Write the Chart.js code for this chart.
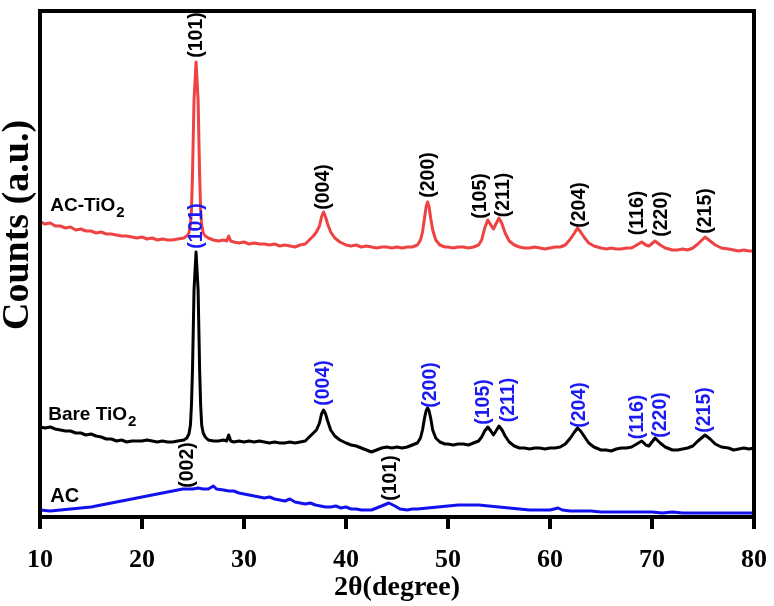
<!DOCTYPE html>
<html>
<head>
<meta charset="utf-8">
<title>XRD patterns</title>
<script src="https://cdn.jsdelivr.net/npm/chart.js@4/dist/chart.umd.min.js"></script>
<style>
  html, body { margin: 0; padding: 0; background: #fff; }
  #xrd { display: block; }
</style>
</head>
<body>
<canvas id="xrd" width="774" height="606"></canvas>
<script>
// XRD patterns of AC, bare TiO2 and AC-TiO2. Counts are arbitrary units,
// read off the picture (each curve already carries its vertical offset).

var xTicks = [10, 20, 30, 40, 50, 60, 70, 80];

// 2θ grid shared by the two TiO2 patterns
var angleTiO2 = [
  10, 10.5, 11, 11.5, 12, 12.5, 13, 13.5, 14, 14.5,
  15, 15.5, 16, 16.5, 17, 17.5, 18, 18.5, 19, 19.5,
  20, 20.5, 21, 21.5, 22, 22.5, 23, 23.5, 24.1, 24.4,
  24.6, 24.75, 24.85, 24.95, 25.1, 25.3, 25.5, 25.65, 25.75, 25.85,
  26.0, 26.2, 26.5, 27, 27.5, 28, 28.3, 28.5, 28.7, 29,
  29.5, 30, 30.5, 31, 31.5, 32, 32.5, 33, 33.5, 34,
  34.5, 35, 35.5, 36, 36.4, 36.8, 37.1, 37.4, 37.6, 37.8,
  38.0, 38.2, 38.5, 38.9, 39.4, 40, 40.5, 41, 41.5, 42,
  42.5, 43, 43.5, 44, 44.5, 45, 45.5, 46, 46.5, 47,
  47.3, 47.5, 47.7, 47.85, 48.0, 48.15, 48.3, 48.5, 48.8, 49.2,
  49.7, 50, 50.5, 51, 51.5, 52, 52.5, 53, 53.3, 53.6,
  53.9, 54.2, 54.45, 54.7, 55.0, 55.3, 55.6, 56, 56.5, 57,
  57.5, 58, 58.5, 59, 59.5, 60, 60.5, 61, 61.5, 62,
  62.4, 62.7, 63.0, 63.4, 63.8, 64.3, 65, 65.5, 66, 66.5,
  67, 67.5, 68, 68.5, 69.0, 69.4, 69.7, 70.3, 70.8, 71.3,
  72, 72.5, 73, 73.5, 74, 74.5, 75.2, 75.7, 76.2, 76.8,
  77.5, 78, 78.5, 79, 79.5, 80
];

var countsAcTiO2 = [
  295, 293, 294, 291, 291, 289, 290, 287, 288, 286,
  286, 284, 285, 283, 283, 282, 281, 281, 280, 279,
  280, 278, 279, 277, 278, 277, 277, 278, 279, 281,
  284, 292, 307, 342, 417, 455, 417, 342, 307, 292,
  284, 281, 279, 277, 276, 277, 276, 281, 276, 275,
  274, 275, 273, 274, 273, 273, 272, 273, 271, 272,
  271, 270, 272, 273, 277, 281, 285, 291, 300, 305,
  300, 293, 285, 279, 275, 272, 271, 272, 270, 271,
  270, 269, 270, 270, 269, 270, 269, 270, 270, 272,
  277, 285, 299, 310, 315, 310, 299, 287, 277, 272,
  270, 270, 269, 270, 270, 269, 270, 272, 277, 289,
  297, 292, 288, 293, 299, 293, 284, 276, 272, 270,
  269, 269, 270, 269, 268, 269, 270, 270, 272, 278,
  284, 289, 285, 279, 274, 271, 269, 268, 269, 268,
  268, 269, 269, 272, 275, 272, 271, 276, 272, 269,
  267, 267, 268, 267, 269, 273, 280, 276, 272, 269,
  268, 267, 266, 267, 266, 266
];

var countsBareTiO2 = [
  90, 89, 90, 88, 87, 86, 86, 84, 84, 82,
  83, 81, 80, 78, 78, 76, 77, 75, 76, 76,
  76, 77, 76, 75, 76, 75, 75, 76, 77, 79,
  83, 92, 112, 147, 227, 265, 227, 147, 112, 92,
  84, 80, 77, 76, 76, 77, 76, 82, 76, 75,
  76, 75, 76, 75, 76, 75, 74, 75, 74, 74,
  75, 74, 75, 76, 80, 84, 87, 94, 103, 107,
  103, 96, 87, 81, 77, 74, 72, 71, 69, 67,
  65, 67, 69, 70, 69, 70, 69, 70, 72, 74,
  79, 87, 99, 106, 109, 106, 99, 87, 79, 75,
  73, 73, 72, 73, 73, 72, 74, 76, 80, 86,
  90, 86, 82, 86, 91, 87, 81, 75, 71, 69,
  69, 68, 69, 69, 68, 69, 69, 70, 73, 79,
  85, 89, 86, 80, 74, 70, 67, 67, 66, 68,
  69, 69, 70, 73, 76, 72, 71, 79, 74, 70,
  67, 67, 68, 69, 71, 76, 82, 78, 73, 70,
  69, 67, 68, 69, 68, 69
];

var angleAC = [
  10, 11, 12, 13, 14, 15, 16, 17, 18, 19,
  20, 21, 22, 23, 24, 25, 25.5, 26, 26.5, 27,
  27.3, 28, 28.5, 29, 29.5, 30, 30.5, 31, 31.5, 32,
  32.5, 33, 33.5, 34, 34.5, 35, 35.5, 36, 36.5, 37,
  37.5, 38, 38.5, 39, 39.5, 40, 40.5, 41, 41.5, 42,
  42.5, 43, 43.5, 44.2, 44.8, 45.3, 46, 46.5, 47, 48,
  49, 50, 51, 52, 53, 54, 55, 56, 57, 58,
  59, 60, 60.8, 61.2, 62, 63, 64, 65, 66, 67,
  68, 69, 70, 71, 72, 73, 74, 75, 76, 77,
  78, 79, 80
];

var countsAC = [
  7, 6, 7, 8, 9, 10, 12, 14, 16, 18,
  20, 22, 24, 26, 28, 28, 29, 28, 28, 31,
  28, 27, 26, 26, 24, 23, 22, 21, 20, 19,
  20, 18, 17, 16, 18, 15, 14, 13, 14, 12,
  11, 10, 10, 11, 9, 10, 8, 8, 7, 7,
  7, 9, 11, 14, 11, 8, 7, 8, 8, 9,
  10, 11, 12, 12, 12, 11, 10, 9, 8, 7,
  7, 7, 9, 7, 6, 6, 6, 5, 5, 5,
  5, 5, 5, 4, 5, 4, 4, 4, 4, 4,
  4, 4, 4
];

// (hkl) reflections marked on the patterns
var hklTiO2 = ['(101)', '(004)', '(200)', '(105)', '(211)', '(204)', '(116)', '(220)', '(215)'];
var hklAcTiO2Angle = [25.3, 37.75, 48.0, 53.1, 55.4, 62.85, 68.5, 70.8, 75.2];
var hklAcTiO2Count = [482, 330, 342, 321, 322, 312, 304, 303, 306];
var hklBareAngle = [25.3, 37.75, 48.2, 53.4, 55.8, 62.85, 68.5, 70.7, 75.1];
var hklBareCount = [291, 134, 132, 115, 117, 112, 100, 102, 107];
var hklAC = ['(002)', '(101)'];
var hklACAngle = [24.4, 44.3];
var hklACCount = [52, 39];

// curve names written next to the left axis
var sampleNames = ['AC-TiO', 'Bare TiO', 'AC'];
var sampleSubs = ['2', '2', ''];
var sampleNameAngle = [11.0, 10.8, 11.0];
var sampleNameCount = [311, 102, 21];

if (angleTiO2.length !== countsAcTiO2.length || angleTiO2.length !== countsBareTiO2.length ||
    angleAC.length !== countsAC.length) {
  throw new Error('data length mismatch');
}

var RED = '#ef4242';
var BLACK = '#000000';
var BLUE = '#1212ee';
var LABEL_BLUE = '#1a1af5';
var SERIF = "'Liberation Serif', 'Times New Roman', serif";
var SANS = "'Liberation Sans', Arial, sans-serif";

function points(xs, ys) {
  return xs.map(function (x, i) { return { x: x, y: ys[i] }; });
}

function series(label, xs, ys, color) {
  return {
    label: label,
    data: points(xs, ys),
    borderColor: color,
    backgroundColor: color,
    borderWidth: 3,
    pointRadius: 0,
    tension: 0,
    borderJoinStyle: 'round',
    fill: false
  };
}

var decorations = {
  id: 'decorations',
  afterDatasetsDraw: function (chart) {
    var ctx = chart.ctx;
    var xs = chart.scales.x;
    var ys = chart.scales.y;

    function vertical(text, angle, count, color) {
      ctx.save();
      ctx.translate(xs.getPixelForValue(angle), ys.getPixelForValue(count));
      ctx.rotate(-Math.PI / 2);
      ctx.font = 'bold 19.5px ' + SANS;
      ctx.fillStyle = color;
      ctx.textAlign = 'center';
      ctx.textBaseline = 'middle';
      ctx.fillText(text, 0, 1);
      ctx.restore();
    }

    hklTiO2.forEach(function (t, i) {
      vertical(t, hklAcTiO2Angle[i], hklAcTiO2Count[i], BLACK);
      vertical(t, hklBareAngle[i], hklBareCount[i], LABEL_BLUE);
    });
    hklAC.forEach(function (t, i) {
      vertical(t, hklACAngle[i], hklACCount[i], BLACK);
    });

    sampleNames.forEach(function (name, i) {
      var px = xs.getPixelForValue(sampleNameAngle[i]);
      var py = ys.getPixelForValue(sampleNameCount[i]);
      ctx.save();
      ctx.fillStyle = BLACK;
      ctx.textAlign = 'left';
      ctx.textBaseline = 'middle';
      ctx.font = 'bold ' + (sampleSubs[i] ? 19 : 20) + 'px ' + SANS;
      ctx.fillText(name, px, py);
      if (sampleSubs[i]) {
        var w = ctx.measureText(name).width;
        ctx.font = 'bold 15px ' + SANS;
        ctx.fillText(sampleSubs[i], px + w + 1, py + 7);
      }
      ctx.restore();
    });
  },
  afterDraw: function (chart) {
    var ctx = chart.ctx;
    var a = chart.chartArea;
    ctx.save();
    ctx.strokeStyle = BLACK;
    ctx.lineWidth = 4;
    ctx.strokeRect(a.left, a.top, a.right - a.left, a.bottom - a.top);

    // y axis title
    ctx.translate(18, 225);
    ctx.rotate(-Math.PI / 2);
    ctx.font = 'bold 38px ' + SERIF;
    ctx.fillStyle = BLACK;
    ctx.textAlign = 'center';
    ctx.textBaseline = 'middle';
    ctx.fillText('Counts (a.u.)', 0, 0);
    ctx.restore();
  }
};

new Chart(document.getElementById('xrd'), {
  type: 'line',
  data: {
    datasets: [
      series('AC-TiO2', angleTiO2, countsAcTiO2, RED),
      series('Bare TiO2', angleTiO2, countsBareTiO2, BLACK),
      series('AC', angleAC, countsAC, BLUE)
    ]
  },
  options: {
    responsive: false,
    animation: false,
    devicePixelRatio: 1,
    layout: { padding: { left: 40, right: 20, top: 11, bottom: 0 } },
    plugins: { legend: { display: false }, tooltip: { enabled: false } },
    scales: {
      x: {
        type: 'linear',
        min: 10,
        max: 80,
        afterBuildTicks: function (scale) {
          scale.ticks = xTicks.map(function (v) { return { value: v }; });
        },
        afterFit: function (scale) {
          // frame position is fixed; the end labels may overhang the padding
          scale.height = 89;
          scale.paddingLeft = 0;
          scale.paddingRight = 0;
        },
        border: { display: false },
        grid: {
          drawOnChartArea: false,
          drawTicks: true,
          tickLength: 12,
          lineWidth: 4,
          color: BLACK
        },
        ticks: {
          color: BLACK,
          padding: 16,
          maxRotation: 0,
          font: { family: SERIF, size: 26, weight: 'bold' }
        },
        title: {
          display: true,
          text: '2θ(degree)',
          color: BLACK,
          padding: { top: 0, bottom: 1 },
          font: { family: SERIF, size: 28, weight: 'bold' }
        }
      },
      y: {
        display: false,
        min: 0,
        max: 506
      }
    }
  },
  plugins: [decorations]
});
</script>
</body>
</html>
